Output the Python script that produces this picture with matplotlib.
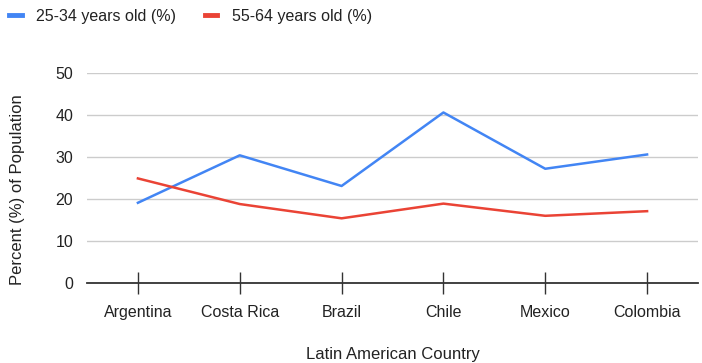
import matplotlib
matplotlib.use("Agg")
import matplotlib.pyplot as plt

plt.rcParams['font.family'] = ['Liberation Sans', 'DejaVu Sans']

# data
countries = ['Argentina', 'Costa Rica', 'Brazil', 'Chile', 'Mexico', 'Colombia']
young = [19.1, 30.4, 23.1, 40.6, 27.2, 30.6]
older = [24.9, 18.8, 15.4, 18.9, 16.0, 17.1]
y_ticks = [0, 10, 20, 30, 40, 50]

fig = plt.figure(figsize=(7.02, 3.63), dpi=100)
ax = fig.add_axes([87 / 702, 80 / 363, 611 / 702, 210 / 363])

x = list(range(len(countries)))
l1, = ax.plot(x, young, color='#4285F4', lw=1.8, label='25-34 years old (%)')
l2, = ax.plot(x, older, color='#EA4335', lw=1.8, label='55-64 years old (%)')

ax.set_xlim(-0.5, len(countries) - 0.5)
ax.set_ylim(0, 50)
ax.set_yticks(y_ticks)
ax.set_xticks(x)
ax.set_xticklabels(countries)
ax.grid(axis='y', color='#cccccc', lw=1)
ax.set_axisbelow(True)

for s in ['top', 'right', 'left']:
    ax.spines[s].set_visible(False)
ax.spines['bottom'].set_color('#333333')
ax.spines['bottom'].set_linewidth(1.3)
ax.tick_params(axis='y', length=0, pad=10, labelsize=11.5, labelcolor='#222222')
ax.tick_params(axis='x', direction='inout', length=16, width=1, color='#333333',
               pad=8, labelsize=11.5, labelcolor='#222222')

ax.set_xlabel('Latin American Country', fontsize=12, color='#222222', labelpad=19)
ax.set_ylabel('Percent (%) of Population', fontsize=12, color='#222222')
ax.yaxis.set_label_coords(-0.101, 0.443)

leg = fig.legend(handles=[l1, l2], loc='upper left', bbox_to_anchor=(-0.008, 1.015),
                 ncol=2, frameon=False, fontsize=11.5, handlelength=0.8,
                 handletextpad=0.9, columnspacing=1.8, labelcolor='#222222')
for h in leg.legend_handles:
    h.set_linewidth(3.5)

fig.savefig('out.png', dpi=100)
